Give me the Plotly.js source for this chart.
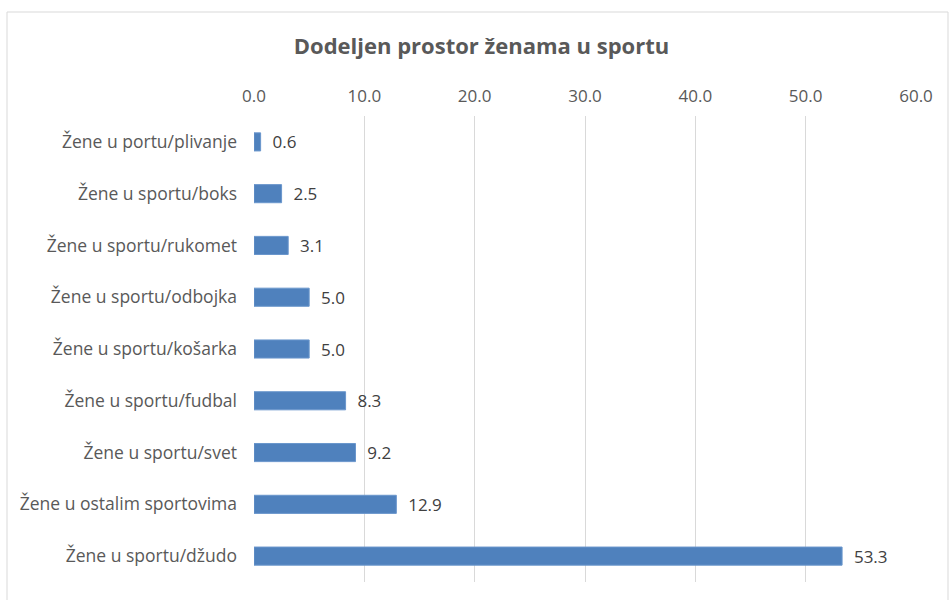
<!DOCTYPE html>
<html>
<head>
<meta charset="utf-8">
<script src="https://cdn.plot.ly/plotly-3.0.1.min.js"></script>
<style>html,body{margin:0;padding:0;background:#fff;}#chart{width:949px;height:600px;}</style>
</head>
<body>
<div id="chart"></div>
<script>
const categories = [
  "Žene u portu/plivanje",
  "Žene u sportu/boks",
  "Žene u sportu/rukomet",
  "Žene u sportu/odbojka",
  "Žene u sportu/košarka",
  "Žene u sportu/fudbal",
  "Žene u sportu/svet",
  "Žene u ostalim sportovima",
  "Žene u sportu/džudo"
];
const values = [0.6, 2.5, 3.1, 5.0, 5.0, 8.3, 9.2, 12.9, 53.3];
const tickValues = [0, 10, 20, 30, 40, 50, 60];

const L = 254, R = 33, T = 116, B = 18, W = 949, H = 600;
const pw = W - L - R, ph = H - T - B;
const FONT = 'Open Sans, sans-serif';

const trace = {
  type: 'bar',
  orientation: 'h',
  y: categories,
  x: values,
  text: values.map(v => '\u00a0\u00a0' + v.toFixed(1)),
  textposition: 'outside',
  constraintext: 'none',
  cliponaxis: false,
  textfont: {family: FONT, size: 17, color: '#404040'},
  marker: {color: '#4f81bd', line: {color: '#6a96cc', width: 1}},
  hoverinfo: 'none'
};

const layout = {
  width: W, height: H,
  margin: {l: L, r: R, t: T, b: B, pad: 0},
  paper_bgcolor: '#ffffff',
  plot_bgcolor: '#ffffff',
  showlegend: false,
  bargap: 0.65,
  font: {family: FONT, color: '#595959'},
  title: {
    text: '<b>Dodeljen prostor ženama u sportu</b>',
    font: {family: FONT, size: 22, color: '#595959'},
    x: (295 + 668) / 2 / W, xanchor: 'center',
    y: 1 - 46 / H, yanchor: 'middle'
  },
  xaxis: {
    side: 'top',
    range: [0, 60],
    tickvals: tickValues,
    ticktext: tickValues.map(v => v.toFixed(1)),
    showgrid: true,
    gridcolor: '#d9d9d9',
    gridwidth: 1,
    zeroline: false,
    showline: false,
    ticks: '',
    tickfont: {family: FONT, size: 17, color: '#595959'},
    ticklabelstandoff: 10,
    fixedrange: true
  },
  yaxis: {
    autorange: 'reversed',
    type: 'category',
    showgrid: false,
    zeroline: false,
    showline: false,
    ticks: '',
    tickfont: {family: FONT, size: 17.5, color: '#595959'},
    ticklabelstandoff: 16,
    fixedrange: true
  },
  shapes: [{
    type: 'rect', xref: 'paper', yref: 'paper',
    x0: (7 - L) / pw, x1: (948 - L) / pw,
    y0: (ph + T - 610) / ph, y1: (ph + T - 12) / ph,
    line: {color: '#d9d9d9', width: 1},
    fillcolor: 'rgba(0,0,0,0)',
    layer: 'below'
  }]
};

Plotly.newPlot('chart', [trace], layout, {displayModeBar: false, staticPlot: true});
</script>
</body>
</html>
